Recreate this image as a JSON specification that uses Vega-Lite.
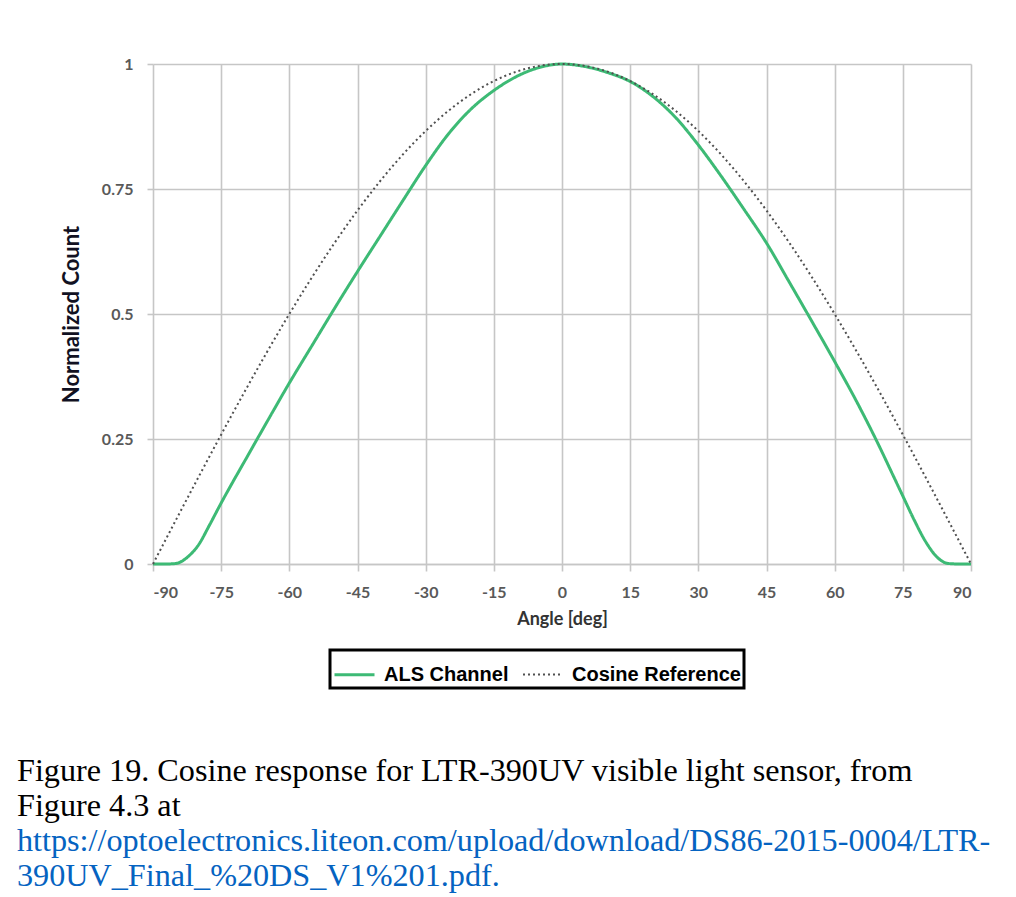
{
  "$schema": "https://vega.github.io/schema/vega-lite/v6.json",
  "width": 818,
  "height": 500,
  "autosize": {"type": "none"},
  "padding": {"left": 153, "top": 64, "right": 45, "bottom": 333},
  "background": "white",
  "title": {
    "text": ["Figure 19. Cosine response for LTR-390UV visible light sensor, from", "Figure 4.3 at"],
    "subtitle": ["https://optoelectronics.liteon.com/upload/download/DS86-2015-0004/LTR-", "390UV_Final_%20DS_V1%201.pdf."],
    "orient": "bottom",
    "anchor": "start",
    "frame": "group",
    "dx": -136,
    "offset": 66,
    "font": "Liberation Serif",
    "fontSize": 32.2,
    "fontWeight": "normal",
    "lineHeight": 35,
    "color": "black",
    "subtitleFont": "Liberation Serif",
    "subtitleFontSize": 32.2,
    "subtitleLineHeight": 35,
    "subtitleColor": "#0563C1",
    "subtitlePadding": 3
  },
  "data": {
    "values": [
      {"angle": -90, "value": 0, "series": "ALS Channel"},
      {"angle": -87.5, "value": 0, "series": "ALS Channel"},
      {"angle": -85, "value": 0.001, "series": "ALS Channel"},
      {"angle": -82.5, "value": 0.013, "series": "ALS Channel"},
      {"angle": -80, "value": 0.038, "series": "ALS Channel"},
      {"angle": -77.5, "value": 0.079, "series": "ALS Channel"},
      {"angle": -75, "value": 0.122, "series": "ALS Channel"},
      {"angle": -72.5, "value": 0.163, "series": "ALS Channel"},
      {"angle": -70, "value": 0.203, "series": "ALS Channel"},
      {"angle": -65, "value": 0.283, "series": "ALS Channel"},
      {"angle": -60, "value": 0.362, "series": "ALS Channel"},
      {"angle": -55, "value": 0.437, "series": "ALS Channel"},
      {"angle": -50, "value": 0.512, "series": "ALS Channel"},
      {"angle": -45, "value": 0.585, "series": "ALS Channel"},
      {"angle": -40, "value": 0.656, "series": "ALS Channel"},
      {"angle": -35, "value": 0.727, "series": "ALS Channel"},
      {"angle": -30, "value": 0.797, "series": "ALS Channel"},
      {"angle": -25, "value": 0.86, "series": "ALS Channel"},
      {"angle": -20, "value": 0.91, "series": "ALS Channel"},
      {"angle": -15, "value": 0.947, "series": "ALS Channel"},
      {"angle": -10, "value": 0.975, "series": "ALS Channel"},
      {"angle": -5, "value": 0.993, "series": "ALS Channel"},
      {"angle": 0, "value": 1, "series": "ALS Channel"},
      {"angle": 5, "value": 0.995, "series": "ALS Channel"},
      {"angle": 10, "value": 0.983, "series": "ALS Channel"},
      {"angle": 15, "value": 0.965, "series": "ALS Channel"},
      {"angle": 20, "value": 0.935, "series": "ALS Channel"},
      {"angle": 25, "value": 0.893, "series": "ALS Channel"},
      {"angle": 30, "value": 0.838, "series": "ALS Channel"},
      {"angle": 35, "value": 0.776, "series": "ALS Channel"},
      {"angle": 40, "value": 0.71, "series": "ALS Channel"},
      {"angle": 45, "value": 0.642, "series": "ALS Channel"},
      {"angle": 50, "value": 0.564, "series": "ALS Channel"},
      {"angle": 55, "value": 0.485, "series": "ALS Channel"},
      {"angle": 60, "value": 0.405, "series": "ALS Channel"},
      {"angle": 65, "value": 0.322, "series": "ALS Channel"},
      {"angle": 70, "value": 0.232, "series": "ALS Channel"},
      {"angle": 72.5, "value": 0.184, "series": "ALS Channel"},
      {"angle": 75, "value": 0.136, "series": "ALS Channel"},
      {"angle": 77.5, "value": 0.088, "series": "ALS Channel"},
      {"angle": 80, "value": 0.045, "series": "ALS Channel"},
      {"angle": 82.5, "value": 0.014, "series": "ALS Channel"},
      {"angle": 85, "value": 0.001, "series": "ALS Channel"},
      {"angle": 87.5, "value": 0, "series": "ALS Channel"},
      {"angle": 90, "value": 0, "series": "ALS Channel"},
      {"angle": -90, "value": 0, "series": "Cosine Reference"},
      {"angle": -85, "value": 0.0872, "series": "Cosine Reference"},
      {"angle": -80, "value": 0.1736, "series": "Cosine Reference"},
      {"angle": -75, "value": 0.2588, "series": "Cosine Reference"},
      {"angle": -70, "value": 0.342, "series": "Cosine Reference"},
      {"angle": -65, "value": 0.4226, "series": "Cosine Reference"},
      {"angle": -60, "value": 0.5, "series": "Cosine Reference"},
      {"angle": -55, "value": 0.5736, "series": "Cosine Reference"},
      {"angle": -50, "value": 0.6428, "series": "Cosine Reference"},
      {"angle": -45, "value": 0.7071, "series": "Cosine Reference"},
      {"angle": -40, "value": 0.766, "series": "Cosine Reference"},
      {"angle": -35, "value": 0.8192, "series": "Cosine Reference"},
      {"angle": -30, "value": 0.866, "series": "Cosine Reference"},
      {"angle": -25, "value": 0.9063, "series": "Cosine Reference"},
      {"angle": -20, "value": 0.9397, "series": "Cosine Reference"},
      {"angle": -15, "value": 0.9659, "series": "Cosine Reference"},
      {"angle": -10, "value": 0.9848, "series": "Cosine Reference"},
      {"angle": -5, "value": 0.9962, "series": "Cosine Reference"},
      {"angle": 0, "value": 1, "series": "Cosine Reference"},
      {"angle": 5, "value": 0.9962, "series": "Cosine Reference"},
      {"angle": 10, "value": 0.9848, "series": "Cosine Reference"},
      {"angle": 15, "value": 0.9659, "series": "Cosine Reference"},
      {"angle": 20, "value": 0.9397, "series": "Cosine Reference"},
      {"angle": 25, "value": 0.9063, "series": "Cosine Reference"},
      {"angle": 30, "value": 0.866, "series": "Cosine Reference"},
      {"angle": 35, "value": 0.8192, "series": "Cosine Reference"},
      {"angle": 40, "value": 0.766, "series": "Cosine Reference"},
      {"angle": 45, "value": 0.7071, "series": "Cosine Reference"},
      {"angle": 50, "value": 0.6428, "series": "Cosine Reference"},
      {"angle": 55, "value": 0.5736, "series": "Cosine Reference"},
      {"angle": 60, "value": 0.5, "series": "Cosine Reference"},
      {"angle": 65, "value": 0.4226, "series": "Cosine Reference"},
      {"angle": 70, "value": 0.342, "series": "Cosine Reference"},
      {"angle": 75, "value": 0.2588, "series": "Cosine Reference"},
      {"angle": 80, "value": 0.1736, "series": "Cosine Reference"},
      {"angle": 85, "value": 0.0872, "series": "Cosine Reference"},
      {"angle": 90, "value": 0, "series": "Cosine Reference"}
    ]
  },
  "mark": {"type": "line", "interpolate": "monotone", "clip": false},
  "encoding": {
    "x": {
      "field": "angle",
      "type": "quantitative",
      "scale": {"domain": [-90, 90], "nice": false, "zero": false},
      "axis": {
        "title": "Angle [deg]",
        "values": [-90, -75, -60, -45, -30, -15, 0, 15, 30, 45, 60, 75, 90],
        "labelExpr": "datum.value + ''",
        "tickSize": 7,
        "labelPadding": 13,
        "titlePadding": 10,
        "titleFontSize": 18,
        "domain": true
      }
    },
    "y": {
      "field": "value",
      "type": "quantitative",
      "scale": {"domain": [0, 1], "nice": false},
      "axis": {
        "title": "Normalized Count",
        "values": [0, 0.25, 0.5, 0.75, 1],
        "labelExpr": "datum.value + ''",
        "tickSize": 6,
        "labelPadding": 14,
        "titlePadding": 18,
        "titleFontSize": 22,
        "titleColor": "#111122",
        "domain": false
      }
    },
    "color": {
      "field": "series",
      "type": "nominal",
      "scale": {"domain": ["ALS Channel", "Cosine Reference"], "range": ["#3dba75", "#505050"]},
      "legend": {
        "title": null,
        "orient": "none",
        "legendX": 177,
        "legendY": 586,
        "direction": "horizontal",
        "encode": {"legend": {"update": {"strokeWidth": {"value": 3}}}}
      }
    },
    "strokeDash": {
      "field": "series",
      "type": "nominal",
      "scale": {"domain": ["ALS Channel", "Cosine Reference"], "range": [[1, 0], [2, 3]]},
      "legend": {
        "title": null,
        "orient": "none",
        "legendX": 177,
        "legendY": 586,
        "direction": "horizontal",
        "encode": {"legend": {"update": {"strokeWidth": {"value": 3}}}}
      }
    },
    "strokeWidth": {
      "field": "series",
      "type": "nominal",
      "scale": {"domain": ["ALS Channel", "Cosine Reference"], "range": [3, 2]},
      "legend": null
    }
  },
  "config": {
    "view": {"stroke": null},
    "axis": {
      "labelFont": "Lato",
      "labelFontSize": 16,
      "labelFontWeight": "bold",
      "labelColor": "#595959",
      "titleFont": "Lato",
      "titleFontWeight": "bold",
      "titleColor": "#333333",
      "gridColor": "#c6c6c6",
      "gridWidth": 1.6,
      "tickColor": "#c6c6c6",
      "tickWidth": 1.6,
      "domainColor": "#c6c6c6",
      "domainWidth": 1.6
    },
    "legend": {
      "labelFont": "Liberation Sans",
      "labelFontSize": 20,
      "labelFontWeight": "bold",
      "labelColor": "black",
      "labelLimit": 0,
      "symbolType": "stroke",
      "symbolSize": 1600,
      "symbolStrokeWidth": 3,
      "strokeColor": "black",
      "padding": 3,
      "columnPadding": 10,
      "labelOffset": 8,
      "fillColor": "white"
    }
  }
}
